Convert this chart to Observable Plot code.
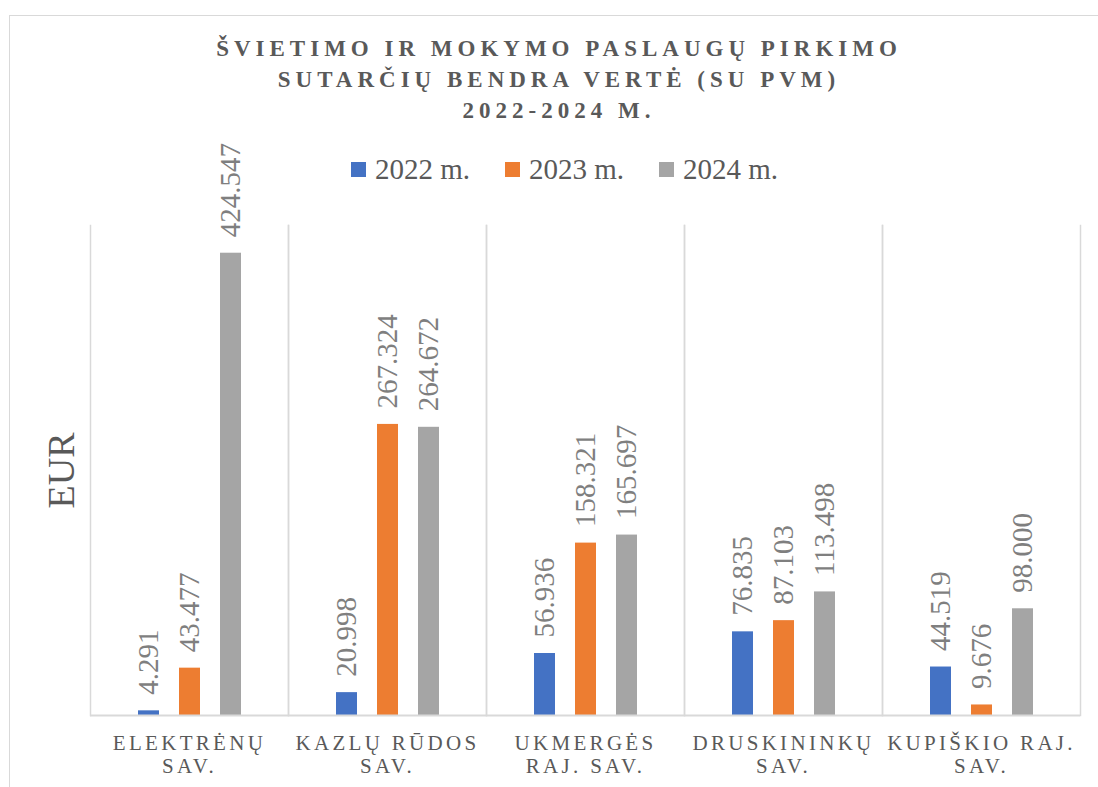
<!DOCTYPE html>
<html>
<head>
<meta charset="utf-8">
<script src="https://cdn.jsdelivr.net/npm/d3@7"></script>
<script src="https://cdn.jsdelivr.net/npm/@observablehq/plot@0.6"></script>
<style>
  body { margin: 0; background: #fff; }
  #page { position: relative; width: 1098px; height: 787px; overflow: hidden; font-family: "Liberation Serif", "DejaVu Serif", serif; background: #fff; }
  #frame { position: absolute; left: 9px; top: 15px; width: 1130px; height: 830px; border: 1.5px solid #d9d9d9; box-sizing: border-box; pointer-events: none; z-index: 3; }
  #header { position: relative; height: 200px; }
  #title { position: absolute; left: 0; width: 1118px; top: 33px; text-align: center; font-weight: bold; font-size: 23px; line-height: 31px; letter-spacing: 5px; color: #595959; }
  #legend { position: absolute; left: 0; width: 1129px; top: 153px; display: flex; justify-content: center; gap: 35px; font-size: 29px; line-height: 33px; color: #595959; }
  .item { display: flex; align-items: flex-start; gap: 9px; }
  .sw { width: 15px; height: 15px; margin-top: 9px; }
  #chart { position: relative; z-index: 2; }
  g[aria-label^="fx-axis tick label"] text { letter-spacing: 3.3px; }
</style>
</head>
<body>
<div id="page">
  <div id="frame"></div>
  <div id="header">
    <div id="title"></div>
    <div id="legend"></div>
  </div>
  <div id="chart"></div>
</div>
<script>
const titleLines = ["ŠVIETIMO IR MOKYMO PASLAUGŲ PIRKIMO", "SUTARČIŲ BENDRA VERTĖ (SU PVM)", "2022-2024 M."];
const categories = ["Elektrėnų sav.", "Kazlų Rūdos sav.", "Ukmergės raj. sav.", "Druskininkų sav.", "Kupiškio raj. sav."];
const tickLabels = ["ELEKTRĖNŲ\nSAV.", "KAZLŲ RŪDOS\nSAV.", "UKMERGĖS\nRAJ. SAV.", "DRUSKININKŲ\nSAV.", "KUPIŠKIO RAJ.\nSAV."];
const years = ["2022 m.", "2023 m.", "2024 m."];
const colors = ["#4472C4", "#ED7D31", "#A5A5A5"];
const v2022 = [4.291, 20.998, 56.936, 76.835, 44.519];
const v2023 = [43.477, 267.324, 158.321, 87.103, 9.676];
const v2024 = [424.547, 264.672, 165.697, 113.498, 98.000];
const yLabel = "EUR";

const series = [v2022, v2023, v2024];
const data = [];
categories.forEach((c, i) => years.forEach((y, j) => data.push({cat: c, year: y, value: series[j][i]})));

document.getElementById("title").innerHTML = titleLines.join("<br>");
const legend = document.getElementById("legend");
years.forEach((y, j) => {
  const it = document.createElement("div"); it.className = "item";
  const sw = document.createElement("div"); sw.className = "sw"; sw.style.background = colors[j];
  const t = document.createElement("span"); t.textContent = y;
  it.appendChild(sw); it.appendChild(t); legend.appendChild(it);
});

const grid = "#d9d9d9";
const chart = Plot.plot({
  width: 1098,
  height: 587,
  marginTop: 25,
  marginBottom: 72,
  marginLeft: 89,
  marginRight: 18,
  style: {fontFamily: "Liberation Serif, DejaVu Serif, serif", overflow: "visible", background: "transparent"},
  fx: {domain: categories, padding: 0, axis: null, label: null},
  x: {domain: years, paddingInner: 0.488, paddingOuter: 1.158, axis: null},
  y: {domain: [0, 450], axis: null},
  color: {domain: years, range: colors},
  marks: [
    Plot.frame({anchor: "left", stroke: grid, strokeWidth: 1.5}),
    Plot.frame({anchor: "right", stroke: grid, strokeWidth: 1.5}),
    Plot.barY(data, {fx: "cat", x: "year", y: "value", fill: "year"}),
    Plot.ruleY([0], {stroke: grid, strokeWidth: 2}),
    Plot.text(data, {fx: "cat", x: "year", y: "value", text: d => d.value.toFixed(3), rotate: -90, textAnchor: "start", lineAnchor: "middle", dy: -16, fontSize: 29, fill: "#7f7f7f"}),
    Plot.axisFx({anchor: "bottom", tickSize: 0, tickPadding: 18, fontSize: 21, lineHeight: 1.1, fill: "#595959", label: null,
      tickFormat: d => tickLabels[categories.indexOf(d)]}),
    Plot.axisY({ticks: [], tickSize: 0, label: yLabel, labelAnchor: "center", labelArrow: "none", labelOffset: 43, fontSize: 38, fill: "#595959"})
  ]
});
document.getElementById("chart").appendChild(chart);
</script>
</body>
</html>
